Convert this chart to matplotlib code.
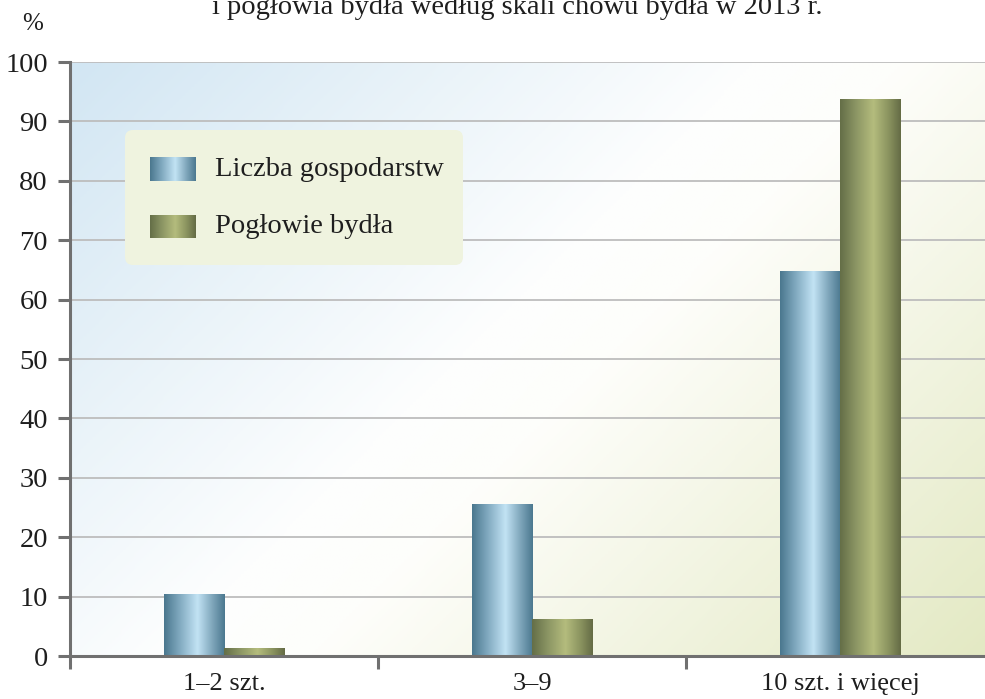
import numpy as np
import matplotlib
matplotlib.use("Agg")
import matplotlib.pyplot as plt
from matplotlib.colors import LinearSegmentedColormap
from matplotlib.patches import FancyBboxPatch

# ---- data ----
categories = ["1–2 szt.", "3–9", "10 szt. i więcej"]
liczba_gospodarstw = [10.4, 25.5, 64.7]
poglowie_bydla = [1.3, 6.1, 93.7]
series_names = ["Liczba gospodarstw", "Pogłowie bydła"]
yticks = [0, 10, 20, 30, 40, 50, 60, 70, 80, 90, 100]
title = "i pogłowia bydła według skali chowu bydła w 2013 r."

plt.rcParams['font.family'] = ['Liberation Serif', 'DejaVu Serif']
TXT = "#1e1e1e"
AXC = "#707070"

W, H = 985, 699
fig = plt.figure(figsize=(W / 100, H / 100), dpi=100)
fig.patch.set_facecolor("white")

ax_l, ax_r, ax_t, ax_b = 70, 994, 62, 656
ax = fig.add_axes([ax_l / W, (H - ax_b) / H, (ax_r - ax_l) / W, (ax_b - ax_t) / H])

# background gradient
bg_cmap = LinearSegmentedColormap.from_list(
    "bg", [(0.0, "#d2e6f3"), (0.45, "#fdfefe"), (0.55, "#fefefb"),
           (1.0, "#e3e9c3")])
pw, ph = ax_r - ax_l, ax_b - ax_t
xs = np.linspace(0, pw, 300)
ys = np.linspace(0, ph, 200)
XX, YY = np.meshgrid(xs, ys)  # YY from top
T = (XX + YY) / (pw + ph)
ax.imshow(bg_cmap(T), extent=[0, 1, 0, 1], transform=ax.transAxes,
          aspect='auto', zorder=0, origin='upper', interpolation='bilinear')

# bars
x = np.arange(len(categories))
bw = 0.195
b1 = ax.bar(x - bw / 2, liczba_gospodarstw, bw, color="none", zorder=2)
b2 = ax.bar(x + bw / 2, poglowie_bydla, bw, color="none", zorder=2)

blue_cmap = LinearSegmentedColormap.from_list(
    "blue", [(0.0, "#4a778e"), (0.25, "#7fa8be"), (0.55, "#c2e3f4"),
             (0.8, "#7ea5ba"), (1.0, "#4b788f")])
green_cmap = LinearSegmentedColormap.from_list(
    "green", [(0.0, "#646e47"), (0.25, "#8a9463"), (0.55, "#b4bc7d"),
              (0.8, "#8a935f"), (1.0, "#646b45")])
grad = np.linspace(0, 1, 256).reshape(1, -1)


def grad_fill(bars, cmap):
    for r in bars:
        x0, w, h = r.get_x(), r.get_width(), r.get_height()
        ax.imshow(grad, cmap=cmap, extent=[x0, x0 + w, 0, h], aspect='auto',
                  zorder=2, interpolation='bilinear')


grad_fill(b1, blue_cmap)
grad_fill(b2, green_cmap)

ax.set_xlim(-0.5, 2.5)
ax.set_ylim(0, 100)
ax.set_aspect('auto')

# grid & axes styling
ax.set_yticks(yticks)
ax.yaxis.grid(True, color="#bdbdbd", linewidth=1.3, zorder=0.5)
ax.set_axisbelow(True)
for s in ["top", "right"]:
    ax.spines[s].set_visible(False)
for s in ["left", "bottom"]:
    ax.spines[s].set_color(AXC)
    ax.spines[s].set_linewidth(2.2)
    ax.spines[s].set_zorder(3)

ax.tick_params(axis='y', length=9, width=2.2, color=AXC, pad=7,
               labelsize=20.5, labelcolor=TXT)
ax.set_xticks(x)
ax.set_xticklabels(categories)
ax.set_xticks([-0.5, 0.5, 1.5, 2.5], minor=True)
ax.tick_params(axis='x', which='major', length=0, pad=12,
               labelsize=19, labelcolor=TXT)
ax.tick_params(axis='x', which='minor', length=9, width=2.2, color=AXC)

# legend (manual, rounded box)
lx0, ly0, lx1, ly1 = 125, 130, 463, 265
lg = fig.add_axes([lx0 / W, (H - ly1) / H, (lx1 - lx0) / W, (ly1 - ly0) / H])
lg.set_xlim(0, lx1 - lx0)
lg.set_ylim(ly1 - ly0, 0)
lg.axis('off')
lg.add_patch(FancyBboxPatch((0, 0), lx1 - lx0, ly1 - ly0,
                            boxstyle="round,pad=0,rounding_size=8",
                            facecolor="#eff3df", edgecolor="none",
                            clip_on=False, zorder=0))
for (yy0, yy1), cmap, name in [((27, 51), blue_cmap, series_names[0]),
                               ((85, 108), green_cmap, series_names[1])]:
    lg.imshow(grad, cmap=cmap, extent=[25, 71, yy1, yy0], aspect='auto',
              zorder=1, interpolation='bilinear')
    lg.text(90, (yy0 + yy1) / 2, name, va='center', ha='left',
            fontsize=20.5, color=TXT)
lg.set_xlim(0, lx1 - lx0)
lg.set_ylim(ly1 - ly0, 0)

# title (partly cut off at the top, as in the source) and unit label
fig.text(517 / W, 1 - 14 / H, title, ha='center', va='baseline',
         fontsize=20.5, color=TXT)
fig.text(33 / W, 1 - 24 / H, "%", ha='center', va='center',
         fontsize=18, color=TXT)

fig.savefig("out.png", dpi=100)
